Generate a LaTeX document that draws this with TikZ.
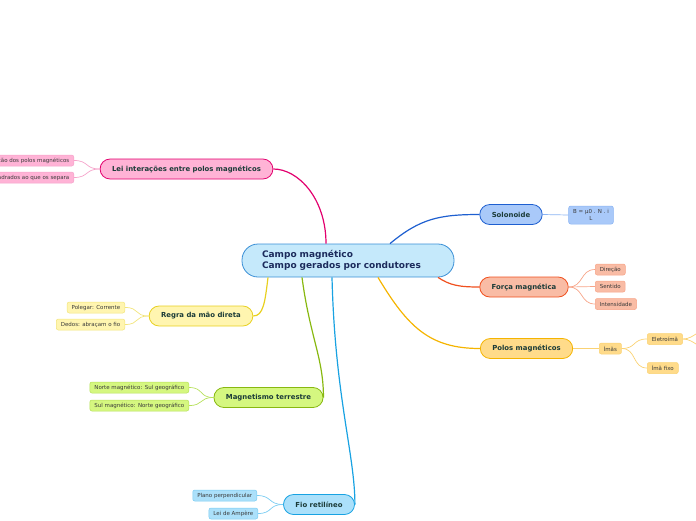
\documentclass[tikz,border=0pt]{standalone}
\usepackage{fontspec}
\setmainfont{DejaVu Sans}
\usepackage{tikz}
\usetikzlibrary{positioning, calc}

\definecolor{campofill}{HTML}{C5E9FB}
\definecolor{campoline}{HTML}{3A8FD6}
\definecolor{campotext}{HTML}{1C2B5C}
\definecolor{branchtext}{HTML}{1B3B38}
\definecolor{leaftext}{HTML}{3A3A3A}
\definecolor{leifill}{HTML}{FFB3D6}
\definecolor{leiline}{HTML}{E2006E}
\definecolor{leileaf}{HTML}{F5A3CA}
\definecolor{solfill}{HTML}{A9C9F9}
\definecolor{solline}{HTML}{1E5FD0}
\definecolor{solleaf}{HTML}{8AB3F2}
\definecolor{forcafill}{HTML}{F9BCA5}
\definecolor{forcaline}{HTML}{F0501E}
\definecolor{forcaleaf}{HTML}{F7A488}
\definecolor{polosfill}{HTML}{FFDB8A}
\definecolor{polosline}{HTML}{F5B400}
\definecolor{polosleaf}{HTML}{FAD273}
\definecolor{regrafill}{HTML}{FFF5B0}
\definecolor{regraline}{HTML}{E8D020}
\definecolor{regraleaf}{HTML}{F2E47A}
\definecolor{terrafill}{HTML}{D5F780}
\definecolor{terraline}{HTML}{88B810}
\definecolor{terraleaf}{HTML}{B6E05A}
\definecolor{fiofill}{HTML}{ABE0FA}
\definecolor{fioline}{HTML}{18A2E2}
\definecolor{fioleaf}{HTML}{7ACCF2}

\begin{document}
\begin{tikzpicture}[x=1pt, y=-1pt,
    campo/.style={rectangle, draw=campoline, fill=campofill, rounded corners=16pt, line width=0.8pt, minimum width=212pt, minimum height=33pt, text width=172pt, inner xsep=20pt, align=left, font=\fontsize{9}{11}\selectfont\bfseries, text=campotext},
    branch/.style={rectangle, rounded corners=10pt, draw=#1line, fill=#1fill, line width=0.8pt, minimum height=20pt, inner xsep=12pt, font=\fontsize{6.9}{8}\selectfont\bfseries, text=branchtext},
    leaf/.style={rectangle, rounded corners=2pt, draw=#1leaf, fill=#1fill, line width=0.5pt, minimum height=11pt, inner xsep=4.5pt, inner ysep=1pt, font=\fontsize{5.5}{6.5}\selectfont, text=leaftext},
    conn/.style={draw=#1line, line width=1.2pt},
    lconn/.style={draw=#1leaf, line width=0.7pt},
]
\useasboundingbox (0,0) rectangle (696,520);
\clip (0,0) rectangle (696,520);

% Central topic
\node[campo] (campo) at (348,260.5) {Campo magnético\\Campo gerados por condutores};

% Lei interacoes
\node[branch=lei] (lei) at (186.5,169) {Lei interações entre polos magnéticos};
\node[leaf=lei, anchor=east] (atracao) at (74,160.5) {ção dos polos magnéticos};
\node[leaf=lei, anchor=east] (quadrados) at (74,177.5) {adrados ao que os separa};

% Solonoide
\node[branch=sol] (sol) at (511,214.5) {Solonoide};
\node[leaf=sol, align=center, minimum height=18pt] (formula) at (591,215) {B = μ0 . N . i\\L};

% Forca magnetica
\node[branch=forca] (forca) at (524,287) {Força magnética};
\node[leaf=forca, anchor=west] (direcao) at (595,269.5) {Direção};
\node[leaf=forca, anchor=west] (sentido) at (595,286.5) {Sentido};
\node[leaf=forca, anchor=west] (intens) at (595,304) {Intensidade};

% Polos magneticos
\node[branch=polos] (polos) at (526.5,348.5) {Polos magnéticos};
\node[leaf=polos, anchor=west] (imas) at (599,348.5) {Ímãs};
\node[leaf=polos, anchor=west] (eletro) at (647,339) {Eletroímã};
\node[leaf=polos, anchor=west] (fixo) at (647,368) {Ímã fixo};
\coordinate (eletroa) at (712,327);
\coordinate (eletrob) at (712,351);

% Regra da mao direita
\node[branch=regra] (regra) at (201,316) {Regra da mão direta};
\node[leaf=regra, anchor=east] (polegar) at (125,307.5) {Polegar: Corrente};
\node[leaf=regra, anchor=east] (dedos) at (125,324.5) {Dedos: abraçam o fio};

% Magnetismo terrestre
\node[branch=terra] (terra) at (268.5,397.5) {Magnetismo terrestre};
\node[leaf=terra, anchor=east] (norte) at (189,387.5) {Norte magnético: Sul geográfico};
\node[leaf=terra, anchor=east] (sul) at (189,405.5) {Sul magnético: Norte geográfico};

% Fio retilineo
\node[branch=fio] (fio) at (319,504.5) {Fio retilíneo};
\node[leaf=fio, anchor=east] (plano) at (257,495.5) {Plano perpendicular};
\node[leaf=fio, anchor=east] (ampere) at (258,513.5) {Lei de Ampère};

% Main branches
\draw[conn=lei] ([xshift=-22pt]campo.north) .. controls +(0,-45) and +(25,0) .. (lei.east);
\draw[conn=sol] ([xshift=42pt]campo.north) .. controls +(30,-25) and +(-40,0) .. (sol.west);
\draw[conn=forca] ([xshift=90pt]campo.south) .. controls +(12,8) and +(-20,0) .. (forca.west);
\draw[conn=polos] ([xshift=30pt]campo.south) .. controls +(30,50) and +(-50,0) .. (polos.west);
\draw[conn=regra] ([xshift=-80pt]campo.south) .. controls +(-3,25) and +(10,0) .. (regra.east);
\draw[conn=terra] ([xshift=-46pt]campo.south) .. controls +(8,60) and +(0,-40) .. (terra.east);
\draw[conn=fio] ([xshift=-16pt]campo.south) .. controls +(3,120) and +(0,-50) .. (fio.east);

% Sub branches
\draw[lconn=lei] (lei.west) .. controls +(-15,0) and +(15,0) .. (atracao.east);
\draw[lconn=lei] (lei.west) .. controls +(-15,0) and +(15,0) .. (quadrados.east);
\draw[lconn=sol] (sol.east) -- (formula.west);
\draw[lconn=forca] (forca.east) .. controls +(15,0) and +(-15,0) .. (direcao.west);
\draw[lconn=forca] (forca.east) -- (sentido.west);
\draw[lconn=forca] (forca.east) .. controls +(15,0) and +(-15,0) .. (intens.west);
\draw[lconn=polos] (polos.east) -- (imas.west);
\draw[lconn=polos] (imas.east) .. controls +(15,0) and +(-15,0) .. (eletro.west);
\draw[lconn=polos] (imas.east) .. controls +(15,0) and +(-15,0) .. (fixo.west);
\draw[lconn=polos] (eletro.east) .. controls +(12,0) and +(-12,0) .. (eletroa);
\draw[lconn=polos] (eletro.east) .. controls +(12,0) and +(-12,0) .. (eletrob);
\draw[lconn=regra] (regra.west) .. controls +(-15,0) and +(15,0) .. (polegar.east);
\draw[lconn=regra] (regra.west) .. controls +(-15,0) and +(15,0) .. (dedos.east);
\draw[lconn=terra] (terra.west) .. controls +(-15,0) and +(15,0) .. (norte.east);
\draw[lconn=terra] (terra.west) .. controls +(-15,0) and +(15,0) .. (sul.east);
\draw[lconn=fio] (fio.west) .. controls +(-15,0) and +(15,0) .. (plano.east);
\draw[lconn=fio] (fio.west) .. controls +(-15,0) and +(15,0) .. (ampere.east);

\end{tikzpicture}
\end{document}
